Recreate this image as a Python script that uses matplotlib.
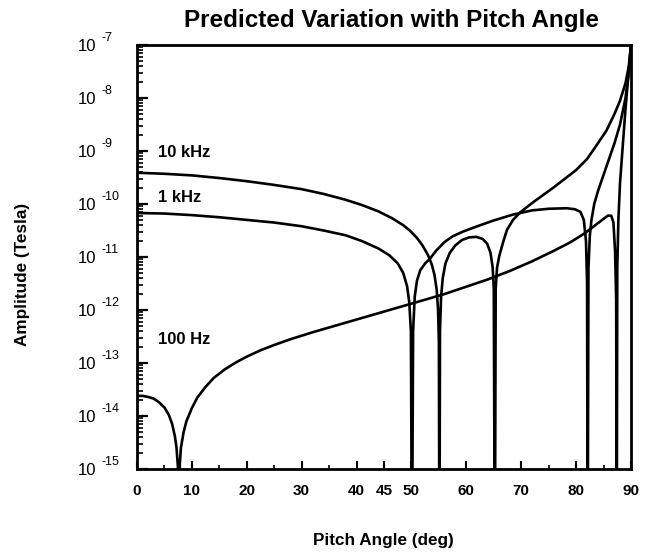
import matplotlib
matplotlib.use("Agg")
import matplotlib.pyplot as plt
from matplotlib.ticker import FixedLocator, LogLocator, NullFormatter, FixedFormatter

plt.rcParams['font.family'] = ['Liberation Sans', 'DejaVu Sans']

title = "Predicted Variation with Pitch Angle"
x_label = "Pitch Angle (deg)"
y_label = "Amplitude (Tesla)"
series_names = ["10 kHz", "1 kHz", "100 Hz"]

# values: pitch angle (deg) and log10 of amplitude (Tesla)
angle_10k = [0, 5, 10, 15, 20, 25, 30, 34, 38, 41, 44, 46.5, 48.5, 49.7, 51, 52, 53, 53.7, 54.2, 54.6, 54.85, 55.0, 55.1,
             55.2, 55.4, 55.7, 56.2, 57, 58, 59.2, 60.5, 61.8, 63, 63.8, 64.4, 64.8, 65.0, 65.2,
             65.35, 65.6, 66.0, 66.7, 67.4, 68.5, 69.8, 72, 74, 76, 78, 80, 82, 84, 85.5, 87, 88, 89, 89.6, 90]
log_10k = [-9.41, -9.43, -9.46, -9.51, -9.57, -9.64, -9.72, -9.81, -9.92, -10.02, -10.14, -10.27, -10.40, -10.50, -10.64, -10.78, -10.96, -11.14, -11.34, -11.62, -12.0, -12.6, -17,
           -12.4, -11.75, -11.40, -11.12, -10.92, -10.78, -10.68, -10.63, -10.62, -10.66, -10.75, -10.92, -11.2, -11.6, -17,
           -11.6, -11.2, -10.98, -10.72, -10.49, -10.30, -10.16, -9.98, -9.83, -9.68, -9.52, -9.36, -9.15, -8.85, -8.62, -8.30, -8.05, -7.72, -7.40, -7.0]

angle_1k = [0, 5, 10, 15, 20, 25, 30, 34, 38, 41, 44, 46, 47.5, 48.5, 49.2, 49.6, 49.9, 50.1,
            50.3, 50.6, 51, 51.6, 52.5, 53.4, 54.5, 56, 57.5, 59.4, 62, 65, 68.5, 72, 75, 78.3, 79.8, 80.8, 81.4, 81.8, 82.0, 82.1,
            82.25, 82.5, 82.8, 83.3, 84, 85, 86, 87, 88, 89, 89.6, 90]
log_1k = [-10.17, -10.18, -10.21, -10.25, -10.30, -10.35, -10.42, -10.50, -10.59, -10.70, -10.84, -10.97, -11.12, -11.30, -11.55, -11.85, -12.4, -17,
          -12.4, -11.75, -11.45, -11.25, -11.12, -11.03, -10.88, -10.72, -10.61, -10.52, -10.42, -10.31, -10.20, -10.12, -10.09, -10.08, -10.10, -10.15, -10.30, -10.70, -11.5, -17,
          -11.2, -10.6, -10.3, -10.0, -9.75, -9.45, -9.15, -8.85, -8.50, -8.0, -7.5, -7.0]

angle_100 = [0, 1, 2, 3, 4, 5, 5.8, 6.4, 6.9, 7.2, 7.45, 7.6,
             7.8, 8.0, 8.5, 9.0, 10, 11, 12.5, 14, 16, 18, 20, 22.5, 25, 28, 32, 36, 40, 44, 48, 52, 56, 60, 64, 68, 72, 76, 79,
             81.6, 83.5, 85, 85.8, 86.4, 86.8, 87.1, 87.3, 87.4,
             87.5, 87.7, 88, 88.5, 89, 89.5, 90]
log_100 = [-13.62, -13.62, -13.64, -13.67, -13.74, -13.84, -13.98, -14.15, -14.38, -14.6, -14.95, -17,
           -14.9, -14.6, -14.3, -14.1, -13.85, -13.65, -13.45, -13.28, -13.12, -12.99, -12.88, -12.76, -12.66, -12.55, -12.42, -12.30, -12.18, -12.06, -11.94, -11.82, -11.70, -11.56, -11.42, -11.26, -11.08, -10.88, -10.72,
           -10.55, -10.40, -10.28, -10.22, -10.22, -10.35, -10.9, -11.8, -17,
           -11.2, -10.3, -9.6, -8.9, -8.2, -7.6, -7.0]

x_ticks = [0, 10, 20, 30, 40, 45, 50, 60, 70, 80, 90]
x_minor = [5, 15, 25, 35, 55, 65, 75, 85]
y_exponents = [-15, -14, -13, -12, -11, -10, -9, -8, -7]

W, H = 651, 554
fig = plt.figure(figsize=(W / 100, H / 100), dpi=100)
ax = fig.add_axes([137 / W, 1 - 469 / H, (631 - 137) / W, (469 - 45) / H])

for xs, ls in [(angle_10k, log_10k), (angle_1k, log_1k), (angle_100, log_100)]:
    ax.plot(xs, [10.0 ** v for v in ls], color='black', lw=1.9, solid_joinstyle='round')

ax.set_yscale('log')
ax.set_xlim(0, 90)
ax.set_ylim(10.0 ** y_exponents[0], 10.0 ** y_exponents[-1])

ax.xaxis.set_major_locator(FixedLocator(x_ticks))
ax.xaxis.set_minor_locator(FixedLocator(x_minor))
ax.set_xticklabels([str(t) for t in x_ticks], fontweight='bold', fontsize=11)

ax.yaxis.set_major_locator(FixedLocator([10.0 ** e for e in y_exponents]))
ax.yaxis.set_major_formatter(FixedFormatter(["10"] * len(y_exponents)))
ax.yaxis.set_minor_locator(LogLocator(base=10, subs=range(2, 10), numticks=30))
ax.yaxis.set_minor_formatter(NullFormatter())

ax.tick_params(axis='both', which='both', direction='in', top=False, right=False, color='black')
ax.tick_params(axis='x', which='major', length=6, width=1.5, pad=11)
ax.tick_params(axis='x', which='minor', length=3, width=1.2)
ax.tick_params(axis='y', which='major', length=8, width=1.6, pad=43, labelsize=12)
ax.tick_params(axis='y', which='minor', length=4, width=1.2)
for lbl in ax.get_yticklabels():
    lbl.set_horizontalalignment('left')

for e in y_exponents:
    ax.annotate(str(e), xy=(0, 10.0 ** e), xycoords=('axes fraction', 'data'),
                xytext=(-36 * 0.72, 7 * 0.72), textcoords='offset points',
                ha='left', va='center', fontsize=9)

for s in ax.spines.values():
    s.set_linewidth(2.0)

ax.text(3.8, 10 ** -9.02, series_names[0], fontweight='bold', fontsize=12, va='center')
ax.text(3.8, 10 ** -9.87, series_names[1], fontweight='bold', fontsize=12, va='center')
ax.text(3.8, 10 ** -12.55, series_names[2], fontweight='bold', fontsize=12, va='center')

fig.text(391 / W, 1 - 20 / H, title, fontweight='bold', fontsize=17.5, ha='center', va='center')
fig.text(383 / W, 1 - 540 / H, x_label, fontweight='bold', fontsize=12.3, ha='center', va='center')
fig.text(23 / W, 1 - 274 / H, y_label, fontweight='bold', fontsize=12.3, ha='center', va='center', rotation=90)

fig.savefig("out.png", dpi=100)
